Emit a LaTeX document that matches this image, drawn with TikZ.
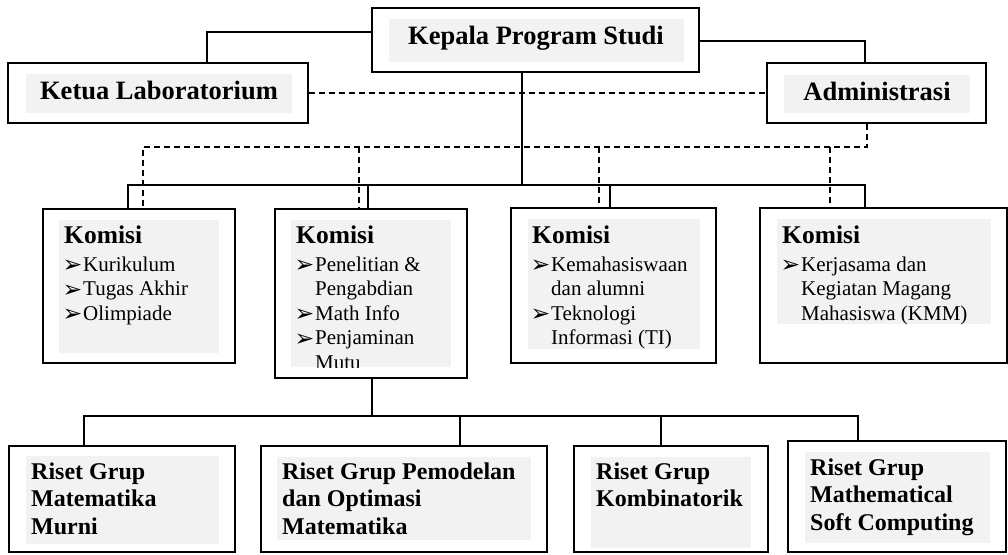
\documentclass[tikz,border=0pt]{standalone}
\usepackage{fontspec}
\setmainfont{Liberation Serif}
\newfontfamily\dvfont{DejaVu Sans}
\usetikzlibrary{fit}
\definecolor{boxgrey}{HTML}{F2F2F2}
\newcommand\bul{\makebox[19pt][l]{\hspace*{-1.5pt}\raisebox{-1.3pt}{\dvfont\fontsize{23.5}{23.5}\selectfont ➢}}}
\newcommand\ind{\hspace*{19pt}}
\tikzset{
  box/.style={draw=black, line width=1.8pt, inner sep=0pt, fill=white},
  greyfill/.style={fill=boxgrey, draw=none, inner sep=0pt},
  head/.style={font=\fontsize{26.5}{30}\selectfont\bfseries, inner sep=0pt, anchor=base},
  komtext/.style={font=\fontsize{21}{24.5}\selectfont, inner sep=0pt, anchor=north west, align=left},
  rgtext/.style={font=\fontsize{24}{27.5}\selectfont\bfseries, inner sep=0pt, anchor=north west, align=left},
  link/.style={draw=black, line width=1.8pt},
  dlink/.style={draw=black, line width=1.6pt, dash pattern=on 6pt off 4pt},
}
\newcommand\kom{{\fontsize{25.5}{27}\selectfont\bfseries Komisi}}
\begin{document}
\begin{tikzpicture}[x=1pt,y=-1pt]
\useasboundingbox (0,0) rectangle (1008,554);
% top level boxes
\node[box, fit={(372,8) (699,72)}] (kps) {};
\node[greyfill, fit={(389,19) (684,62)}] (kpsg) {};
\node[head] (kpst) at (536,44) {Kepala Program Studi};
\node[box, fit={(8,63) (308,123)}] (ketua) {};
\node[greyfill, fit={(26,74) (292,113)}] (ketuag) {};
\node[head] (ketuat) at (159,99.5) {Ketua Laboratorium};
\node[box, fit={(767,63) (986,123)}] (admin) {};
\node[greyfill, fit={(784,75) (970,113)}] (adming) {};
\node[head] (admint) at (877,100) {Administrasi};
% komisi boxes
\node[box, fit={(43,209) (235,363)}] (k1) {};
\node[greyfill, fit={(59,220) (219,353)}] (k1g) {};
\node[komtext] (k1t) at (64,226) {\kom\\[3pt]\bul Kurikulum\\\bul Tugas Akhir\\\bul Olimpiade};
\node[box, fit={(275,209) (467,378)}] (k2) {};
\node[greyfill, fit={(291,220) (451,367)}] (k2g) {};
\begin{scope}
\clip (k2g.north west) rectangle (k2g.south east);
\node[komtext] (k2t) at (296,226) {\kom\\[3pt]\bul Penelitian \&\\\ind Pengabdian\\\bul Math Info\\\bul Penjaminan\\\ind Mutu};
\end{scope}
\node[box, fit={(511,208) (716,363)}] (k3) {};
\node[greyfill, fit={(528,219) (700,349)}] (k3g) {};
\node[komtext] (k3t) at (532,226) {\kom\\[3pt]\bul Kemahasiswaan\\\ind dan alumni\\\bul Teknologi\\\ind Informasi (TI)};
\node[box, fit={(760,208) (1007,363)}] (k4) {};
\node[greyfill, fit={(777,219) (991,324)}] (k4g) {};
\node[komtext] (k4t) at (782,226) {\kom\\[3pt]\bul Kerjasama dan\\\ind Kegiatan Magang\\\ind Mahasiswa (KMM)};
% riset boxes
\node[box, fit={(9,446) (235,552)}] (r1) {};
\node[greyfill, fit={(26,456) (219,544)}] (r1g) {};
\node[rgtext] (r1t) at (31,462.5) {Riset Grup\\Matematika\\Murni};
\node[box, fit={(261,446) (547,552)}] (r2) {};
\node[greyfill, fit={(277,457) (531,540)}] (r2g) {};
\node[rgtext] (r2t) at (282,462.5) {Riset Grup Pemodelan\\dan Optimasi\\Matematika};
\node[box, fit={(574,446) (768,552)}] (r3) {};
\node[greyfill, fit={(591,457) (751,548)}] (r3g) {};
\node[rgtext] (r3t) at (596,462.5) {Riset Grup\\Kombinatorik};
\node[box, fit={(788,441) (1006,552)}] (r4) {};
\node[greyfill, fit={(805,452) (990,543)}] (r4g) {};
\node[rgtext] (r4t) at (810,458.5) {Riset Grup\\Mathematical\\Soft Computing};
% bus coordinates
\coordinate (kb) at (522,185);
\coordinate (b1) at (128,185);
\coordinate (b2) at (368,185);
\coordinate (b3) at (610,185);
\coordinate (b4) at (865,185);
\coordinate (d0) at (867,147);
\coordinate (d1) at (143,147);
\coordinate (d2) at (359,147);
\coordinate (d3) at (599,147);
\coordinate (d4) at (830,147);
\coordinate (rb) at (372,416);
\coordinate (c1) at (84,416);
\coordinate (c2) at (460,416);
\coordinate (c3) at (661,416);
\coordinate (c4) at (858,416);
% solid links
\draw[link] ([yshift=8pt]kps.west) -| ([xshift=49pt]ketua.north);
\draw[link] ([yshift=-1pt]kps.east) -| ([xshift=-11.5pt]admin.north);
\draw[link] (kps.south -| kb) -- (kb);
\draw[link] (k1.north -| b1) -- (b1) -- (b4) -- (k4.north -| b4);
\draw[link] (b2) -- (k2.north -| b2);
\draw[link] (b3) -- (k3.north -| b3);
\draw[link] (k2.south -| rb) -- (rb);
\draw[link] (r1.north -| c1) -- (c1) -- (c4) -- (r4.north -| c4);
\draw[link] (c2) -- (r2.north -| c2);
\draw[link] (c3) -- (r3.north -| c3);
% dashed links
\draw[dlink] (ketua.east) -- (admin.west);
\draw[dlink] (admin.south -| d0) -- (d0) -- (d1) -- (k1.north -| d1);
\draw[dlink] (d2) -- (k2.north -| d2);
\draw[dlink] (d3) -- (k3.north -| d3);
\draw[dlink] (d4) -- (k4.north -| d4);
\end{tikzpicture}
\end{document}
